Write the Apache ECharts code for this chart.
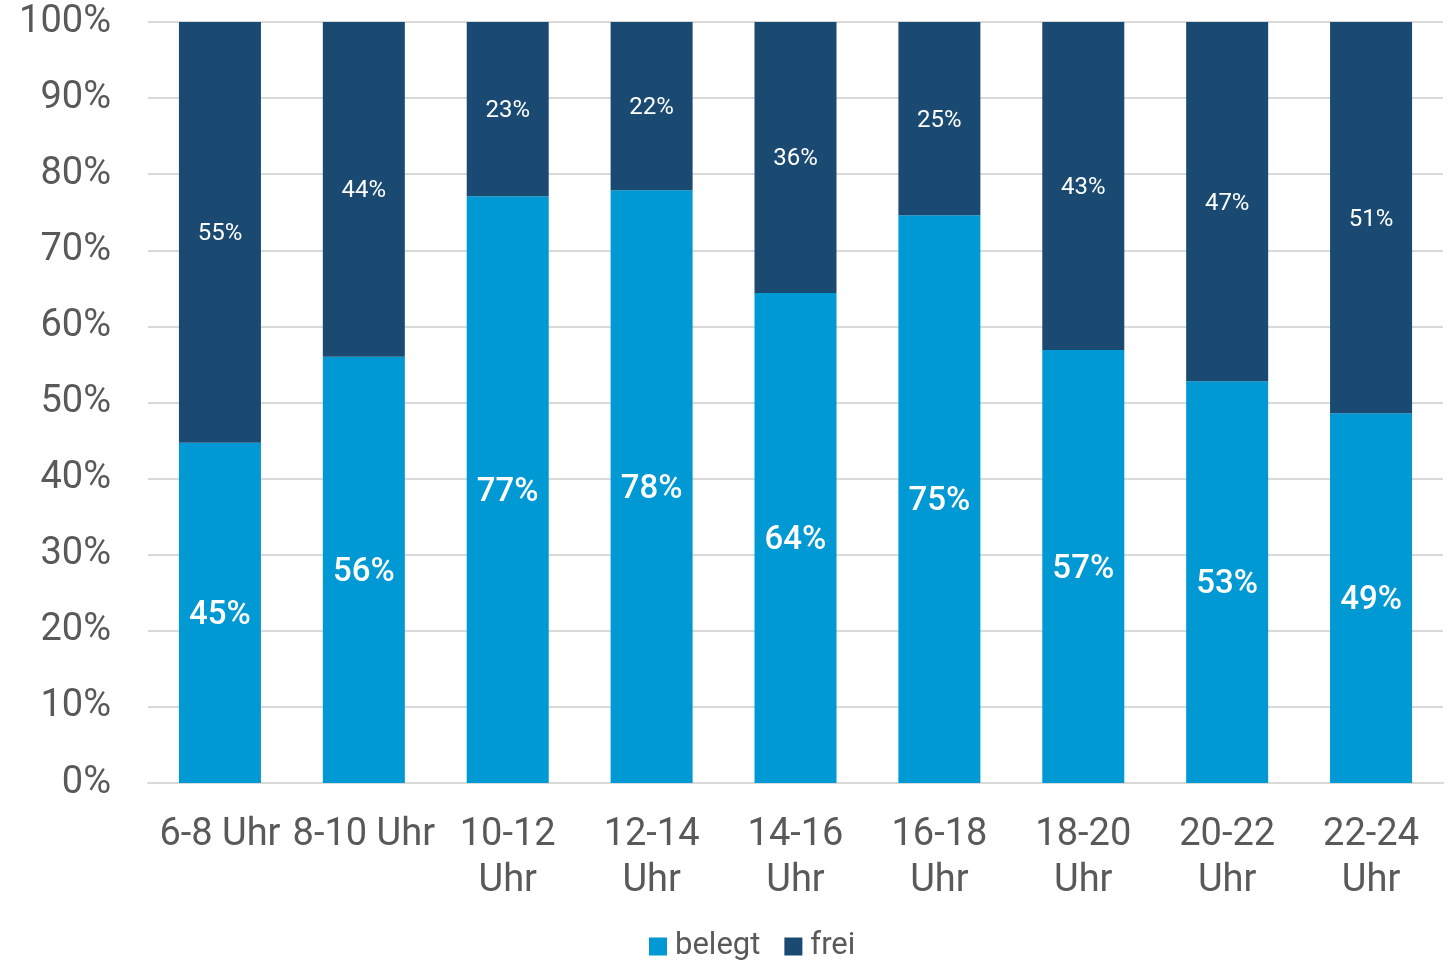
<!DOCTYPE html>
<html>
<head>
<meta charset="utf-8">
<script src="https://cdn.jsdelivr.net/npm/echarts@6/dist/echarts.min.js"></script>
<style>
html,body{margin:0;padding:0;background:#fff;}
#chart{width:1455px;height:961px;}
</style>
</head>
<body>
<div id="chart"></div>
<script>
const categories = ['6-8 Uhr','8-10 Uhr','10-12 Uhr','12-14 Uhr','14-16 Uhr','16-18 Uhr','18-20 Uhr','20-22 Uhr','22-24 Uhr'];
const belegt = [44.7, 56.0, 77.1, 77.9, 64.4, 74.6, 56.9, 52.8, 48.6];
const frei = [55.3, 44.0, 22.9, 22.1, 35.6, 25.4, 43.1, 47.2, 51.4];
const yTicks = [0,10,20,30,40,50,60,70,80,90,100];

const FONT = 'Roboto';
const GRAY = '#595959';
const chart = echarts.init(document.getElementById('chart'));
chart.setOption({
  animation: false,
  textStyle: {fontFamily: FONT},
  grid: {left: 148, right: 12, top: 22, bottom: 178, containLabel: false},
  legend: {
    top: 926, left: 644,
    itemWidth: 18, itemHeight: 18, itemGap: 24,
    icon: 'rect',
    textStyle: {fontFamily: FONT, fontSize: 31, color: GRAY, padding: [0,0,0,3]},
    data: ['belegt','frei']
  },
  xAxis: {
    type: 'category',
    data: categories,
    axisLine: {lineStyle: {color: '#D9D9D9', width: 2}},
    axisTick: {show: false},
    axisLabel: {
      interval: 0, margin: 29, fontSize: 38, color: GRAY, fontFamily: FONT, lineHeight: 46,
      formatter: v => v.length > 8 ? v.replace(' ', '\n') : v
    }
  },
  yAxis: {
    type: 'value', min: yTicks[0], max: yTicks[yTicks.length-1], interval: 10,
    axisLine: {show: false}, axisTick: {show: false},
    splitLine: {lineStyle: {color: '#D9D9D9', width: 2}},
    axisLabel: {formatter: '{value}%', fontSize: 38, color: GRAY, fontFamily: FONT, margin: 37,
      padding: [6, 0, 0, 0]}
  },
  series: [
    {
      name: 'belegt', type: 'bar', stack: 'a', barWidth: 82,
      itemStyle: {color: '#0099D3'},
      label: {show: true, position: 'inside', color: '#fff', fontSize: 33, fontWeight: 500, fontFamily: FONT,
        offset: [0, 3],
        formatter: p => Math.round(p.value) + '%'},
      data: belegt
    },
    {
      name: 'frei', type: 'bar', stack: 'a', barWidth: 82,
      itemStyle: {color: '#1A4A72'},
      label: {show: true, position: 'inside', color: '#fff', fontSize: 24, fontFamily: FONT,
        offset: [0, 2],
        formatter: p => Math.round(p.value) + '%'},
      data: frei
    }
  ]
});
</script>
</body>
</html>
